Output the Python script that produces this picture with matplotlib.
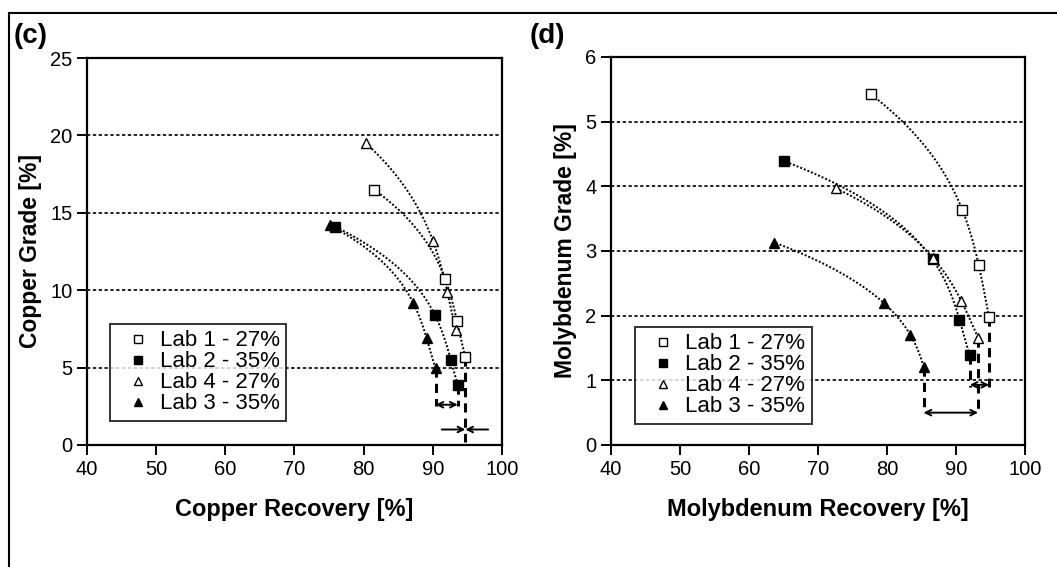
import numpy as np
import matplotlib.pyplot as plt
from matplotlib.lines import Line2D

plt.rcParams['font.family'] = ['Liberation Sans', 'DejaVu Sans']

# (c) copper
cu_lab1_rec = [81.5, 91.8, 93.5, 94.7]
cu_lab1_grade = [16.5, 10.7, 8.0, 5.7]
cu_lab2_rec = [75.9, 90.3, 92.6, 93.6]
cu_lab2_grade = [14.1, 8.4, 5.5, 3.9]
cu_lab4_rec = [80.3, 90.0, 92.1, 93.3]
cu_lab4_grade = [19.5, 13.2, 9.9, 7.4]
cu_lab3_rec = [75.1, 87.2, 89.1, 90.4]
cu_lab3_grade = [14.2, 9.15, 6.9, 4.95]

# (d) molybdenum
mo_lab1_rec = [77.7, 90.9, 93.3, 94.8]
mo_lab1_grade = [5.42, 3.64, 2.78, 1.98]
mo_lab2_rec = [65.1, 86.6, 90.5, 92.0]
mo_lab2_grade = [4.39, 2.87, 1.94, 1.39]
mo_lab4_rec = [72.6, 86.7, 90.8, 93.2]
mo_lab4_grade = [3.97, 2.89, 2.22, 1.66]
mo_lab3_rec = [63.7, 79.6, 83.4, 85.3]
mo_lab3_grade = [3.13, 2.19, 1.70, 1.21]

labels = ['Lab 1 - 27%', 'Lab 2 - 35%', 'Lab 4 - 27%', 'Lab 3 - 35%']
markers = ['s', 's', '^', '^']
faces = ['white', 'black', 'white', 'black']


def trend(x, y, n=120):
    # smooth trend curve: recovery as a cubic of grade, through the points
    c = np.polyfit(y, x, 3)
    yy = np.linspace(min(y), max(y), n)
    return np.polyval(c, yy), yy


def panel(ax, series, ymax, ylabel, xlabel, leg_anchor):
    for (x, y), lab, m, fc in zip(series, labels, markers, faces):
        sx, sy = trend(x, y)
        ax.plot(sx, sy, color='black', lw=1.4, ls=(0, (1, 1)), zorder=2)
        ax.plot(x, y, ls='none', marker=m, ms=7.5, mfc=fc, mec='black', mew=1.0,
                label=lab, zorder=3)
    ax.set_xlim(40, 100)
    ax.set_ylim(0, ymax)
    ax.set_xticks(range(40, 101, 10))
    for yv in ax.get_yticks()[1:-1]:
        ax.axhline(yv, color='black', lw=1.2, ls=(0, (2, 1.5)), zorder=1)
    for sp in ax.spines.values():
        sp.set_linewidth(1.6)
    ax.tick_params(direction='out', length=7, width=1.4, labelsize=14.5)
    ax.set_xlabel(xlabel, fontsize=17, fontweight='bold', labelpad=14)
    ax.set_ylabel(ylabel, fontsize=16.5, fontweight='bold', labelpad=6)
    leg = ax.legend(loc='lower left', bbox_to_anchor=leg_anchor, fontsize=16,
                    frameon=True, fancybox=False, edgecolor='black',
                    handlelength=1.9, handletextpad=0.05, borderpad=0.3,
                    borderaxespad=0, labelspacing=0.0, markerscale=0.85)
    leg.get_frame().set_linewidth(1.4)


def drop(ax, x, y0, y1):
    ax.plot([x, x], [y0, y1], color='black', lw=2.2, ls=(0, (3, 2)), zorder=2)


def arrow(ax, x0, x1, y, style):
    ax.annotate('', xy=(x1, y), xytext=(x0, y),
                arrowprops=dict(arrowstyle=style, color='black', lw=1.4,
                                shrinkA=0, shrinkB=0, mutation_scale=10))


fig = plt.figure(figsize=(10.57, 5.67), dpi=100)
ax1 = fig.add_axes([0.0823, 0.2152, 0.3926, 0.6825])
ax2 = fig.add_axes([0.578, 0.2152, 0.3917, 0.6843])

panel(ax1, [(cu_lab1_rec, cu_lab1_grade), (cu_lab2_rec, cu_lab2_grade),
            (cu_lab4_rec, cu_lab4_grade), (cu_lab3_rec, cu_lab3_grade)],
      25, 'Copper Grade [%]', 'Copper Recovery [%]', (0.055, 0.062))
ax1.set_yticks(range(0, 26, 5))
panel(ax2, [(mo_lab1_rec, mo_lab1_grade), (mo_lab2_rec, mo_lab2_grade),
            (mo_lab4_rec, mo_lab4_grade), (mo_lab3_rec, mo_lab3_grade)],
      6, 'Molybdenum Grade [%]', 'Molybdenum Recovery [%]', (0.058, 0.054))

# (c) recovery spread markers
drop(ax1, cu_lab3_rec[-1], cu_lab3_grade[-1], 2.5)
drop(ax1, cu_lab2_rec[-1], cu_lab2_grade[-1], 2.5)
drop(ax1, cu_lab1_rec[-1], cu_lab1_grade[-1], 0.2)
arrow(ax1, cu_lab3_rec[-1], cu_lab2_rec[-1], 2.6, '<->')
arrow(ax1, 91.3, cu_lab1_rec[-1], 1.0, '->')
arrow(ax1, 98.0, cu_lab1_rec[-1], 1.0, '->')

# (d) recovery spread markers
drop(ax2, mo_lab3_rec[-1], mo_lab3_grade[-1], 0.5)
drop(ax2, mo_lab4_rec[-1], mo_lab4_grade[-1], 0.5)
drop(ax2, mo_lab2_rec[-1], mo_lab2_grade[-1], 0.9)
drop(ax2, mo_lab1_rec[-1], mo_lab1_grade[-1], 0.9)
arrow(ax2, mo_lab3_rec[-1], mo_lab4_rec[-1], 0.5, '<->')
arrow(ax2, mo_lab2_rec[-1], mo_lab1_rec[-1], 0.93, '<->')

fig.text(0.013, 0.925, '(c)', fontsize=20, fontweight='bold')
fig.text(0.501, 0.925, '(d)', fontsize=20, fontweight='bold')

# outer frame (top and left edges)
fig.add_artist(Line2D([0.0085, 1.0], [0.977, 0.977], color='black', lw=1.5))
fig.add_artist(Line2D([0.0085, 0.0085], [0.0, 0.977], color='black', lw=1.5))

fig.savefig('out.png', dpi=100)
